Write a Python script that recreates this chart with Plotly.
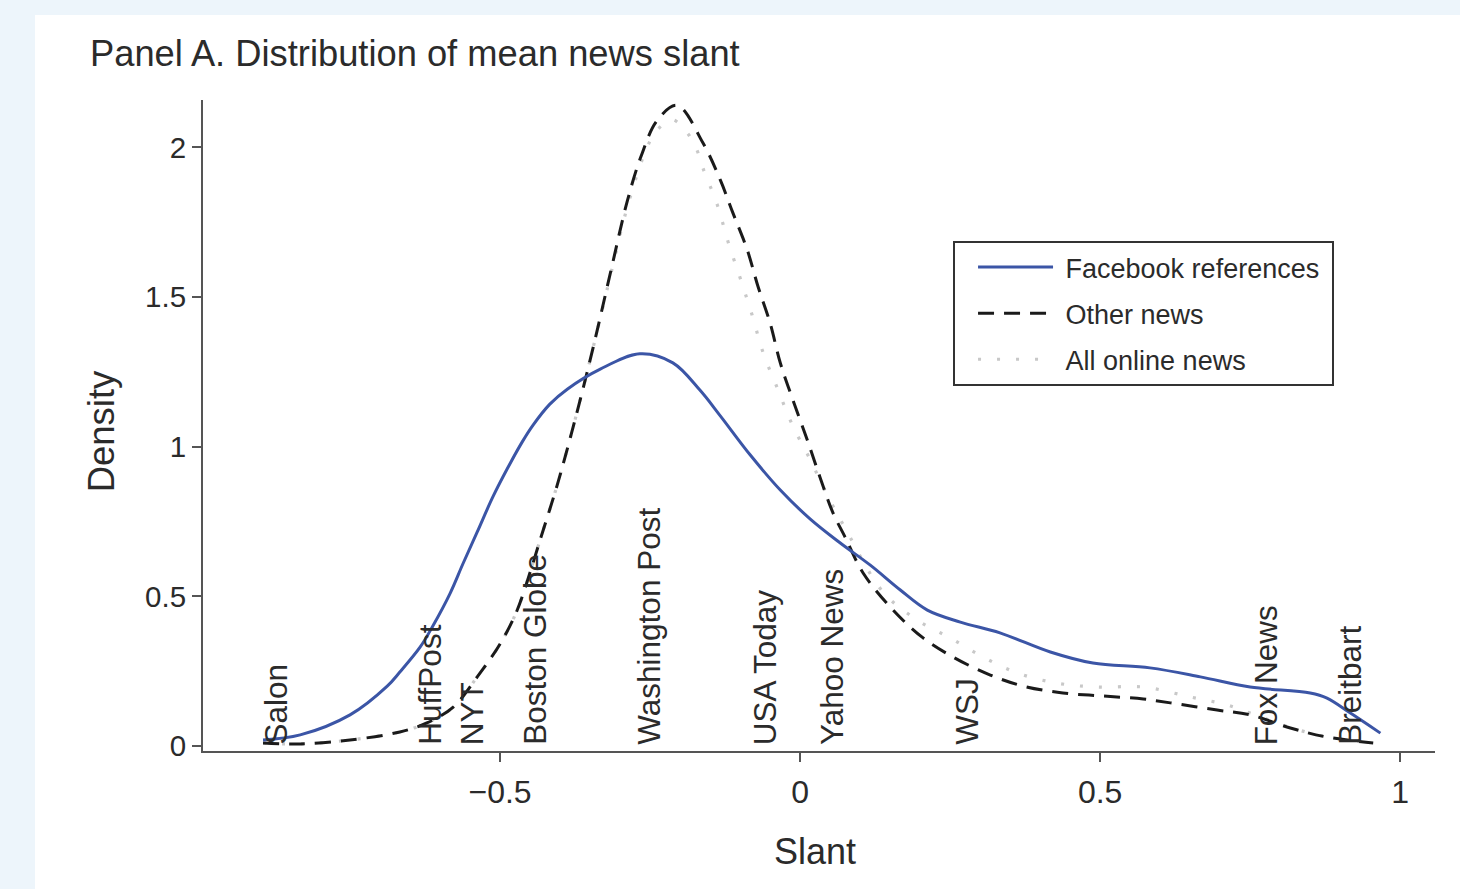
import plotly.graph_objects as go

# ---- data ----
fb_x = [-0.895, -0.833, -0.75, -0.688, -0.667, -0.633, -0.612, -0.583, -0.562, -0.538, -0.512, -0.488,
        -0.463, -0.445, -0.417, -0.388, -0.333, -0.267, -0.212, -0.167, -0.133, -0.083, -0.033, 0.017,
        0.067, 0.117, 0.167, 0.212, 0.267, 0.333, 0.417, 0.488, 0.583, 0.667, 0.75, 0.85, 0.878,
        0.917, 0.967]
fb_y = [0.020, 0.037, 0.104, 0.200, 0.247, 0.331, 0.401, 0.511, 0.608, 0.715, 0.832, 0.926,
        1.016, 1.072, 1.142, 1.192, 1.259, 1.310, 1.280, 1.189, 1.103, 0.972, 0.855, 0.758,
        0.678, 0.604, 0.521, 0.454, 0.414, 0.378, 0.314, 0.277, 0.261, 0.231, 0.197, 0.177, 0.160,
        0.110, 0.043]

other_x = [-0.895, -0.833, -0.75, -0.667, -0.622, -0.578, -0.538, -0.5, -0.472, -0.45, -0.433, -0.405,
           -0.375, -0.345, -0.315, -0.288, -0.265, -0.238, -0.205, -0.162, -0.133, -0.112, -0.088,
           -0.07, -0.05, -0.033, -0.012, 0.012, 0.033, 0.055, 0.075, 0.105, 0.155, 0.205, 0.255,
           0.317, 0.372, 0.438, 0.505, 0.572, 0.617, 0.695, 0.75, 0.817, 0.878, 0.955]
other_y = [0.010, 0.007, 0.020, 0.047, 0.077, 0.130, 0.231, 0.341, 0.451, 0.58, 0.69, 0.87,
           1.09, 1.33, 1.59, 1.82, 1.97, 2.09, 2.14, 2.015, 1.891, 1.781, 1.657,
           1.534, 1.413, 1.280, 1.156, 1.022, 0.899, 0.778, 0.698, 0.578, 0.454, 0.361, 0.297,
           0.237, 0.200, 0.177, 0.167, 0.157, 0.144, 0.120, 0.104, 0.060, 0.030, 0.010]

all_x = [-0.895, -0.833, -0.75, -0.667, -0.622, -0.578, -0.538, -0.5, -0.472, -0.45, -0.433, -0.405,
         -0.375, -0.345, -0.315, -0.288, -0.255, -0.238, -0.213, -0.188, -0.172, -0.162, -0.138,
         -0.12, -0.1, -0.08, -0.062, -0.038, -0.013, 0.017, 0.045, 0.075, 0.138, 0.195, 0.25,
         0.305, 0.362, 0.428, 0.495, 0.572, 0.65, 0.712, 0.75, 0.817, 0.878, 0.955]
all_y = [0.010, 0.007, 0.020, 0.047, 0.077, 0.130, 0.231, 0.341, 0.451, 0.58, 0.69, 0.87,
         1.09, 1.33, 1.58, 1.80, 2.00, 2.058, 2.092, 2.048, 1.991, 1.931, 1.808,
         1.684, 1.564, 1.440, 1.316, 1.196, 1.073, 0.956, 0.839, 0.728, 0.515, 0.421, 0.361,
         0.297, 0.244, 0.210, 0.197, 0.197, 0.164, 0.137, 0.110, 0.062, 0.030, 0.010]

outlets = ["Salon", "HuffPost", "NYT", "Boston Globe", "Washington Post", "USA Today",
           "Yahoo News", "WSJ", "Fox News", "Breitbart"]
outlet_slant = [-0.875, -0.617, -0.547, -0.443, -0.253, -0.058, 0.053, 0.277, 0.777, 0.915]

series_names = ["Facebook references", "Other news", "All online news"]

x_ticks = [-0.5, 0, 0.5, 1]
y_ticks = [0, 0.5, 1, 1.5, 2]
y_ticktext = ["0", "0.5", "1", "1.5", "2"]

FONT = "Liberation Sans, Arial, Helvetica, sans-serif"
TXT = "#2b2b2b"
AX = "#555555"
NB = "\u00a0"

fig = go.Figure()
fig.add_trace(go.Scatter(x=all_x, y=all_y, mode="lines", name=NB + series_names[2],
                         line=dict(color="#c8c8c8", width=3.2, dash="3px,16px", shape="spline", smoothing=1),
                         legendrank=3, legendgroup="c"))
fig.add_trace(go.Scatter(x=other_x, y=other_y, mode="lines", name=NB + series_names[1],
                         line=dict(color="#1a1a1a", width=3, dash="16px,10px", shape="spline", smoothing=1),
                         legendrank=2, legendgroup="b"))
fig.add_trace(go.Scatter(x=fb_x, y=fb_y, mode="lines", name=NB + series_names[0] + NB,
                         line=dict(color="#3b55a6", width=3, shape="spline", smoothing=1),
                         legendrank=1, legendgroup="a"))

for name, s in zip(outlets, outlet_slant):
    fig.add_annotation(x=s, y=0, xref="x", yref="y", text=name, showarrow=False,
                       textangle=-90, xanchor="center", yanchor="bottom",
                       font=dict(family=FONT, size=31.5, color=TXT), borderpad=0)

# white panel over light-blue page
fig.add_shape(type="rect", xref="paper", yref="paper", x0=-0.1364, x1=1.1, y0=-0.3, y1=1.1306,
              fillcolor="white", line=dict(width=0), layer="below")

fig.add_annotation(xref="paper", yref="paper", x=-0.0935, y=1.072, xanchor="left", yanchor="middle",
                   text="Panel A. Distribution of mean news slant", showarrow=False,
                   font=dict(family=FONT, size=36.3, color=TXT))
fig.add_annotation(xref="paper", yref="paper", x=0.4968, y=-0.155, xanchor="center", yanchor="middle",
                   text="Slant", showarrow=False, font=dict(family=FONT, size=36, color=TXT))
fig.add_annotation(xref="paper", yref="paper", x=-0.0828, y=0.491, xanchor="center", yanchor="middle",
                   text="Density", showarrow=False, textangle=-90,
                   font=dict(family=FONT, size=36.5, color=TXT))

fig.update_layout(
    width=1460, height=889,
    margin=dict(l=203, r=25, t=100, b=138),
    paper_bgcolor="#edf5fb", plot_bgcolor="white",
    font=dict(family=FONT, color=TXT),
    legend=dict(x=0.6088, y=0.7834, xanchor="left", yanchor="top",
                bgcolor="white", bordercolor="#333333", borderwidth=2,
                font=dict(family=FONT, size=27, color=TXT),
                itemwidth=75, tracegroupgap=8, traceorder="grouped", indentation=18),
    xaxis=dict(range=[-0.995, 1.058], tickvals=x_ticks, ticks="outside", ticklen=9, tickwidth=2,
               tickcolor=AX, showline=True, linecolor=AX, linewidth=2, showgrid=False, zeroline=False,
               tickfont=dict(family=FONT, size=32, color=TXT), ticklabelstandoff=3),
    yaxis=dict(range=[-0.0167, 2.158], tickvals=y_ticks, ticktext=y_ticktext, ticks="outside",
               ticklen=9, tickwidth=2, tickcolor=AX, showline=True, linecolor=AX, linewidth=2,
               showgrid=False, zeroline=False,
               tickfont=dict(family=FONT, size=29.5, color=TXT), ticklabelstandoff=0),
)

fig.write_html("out.html", config={"displayModeBar": False},
               post_script="document.body.style.margin='0';")
